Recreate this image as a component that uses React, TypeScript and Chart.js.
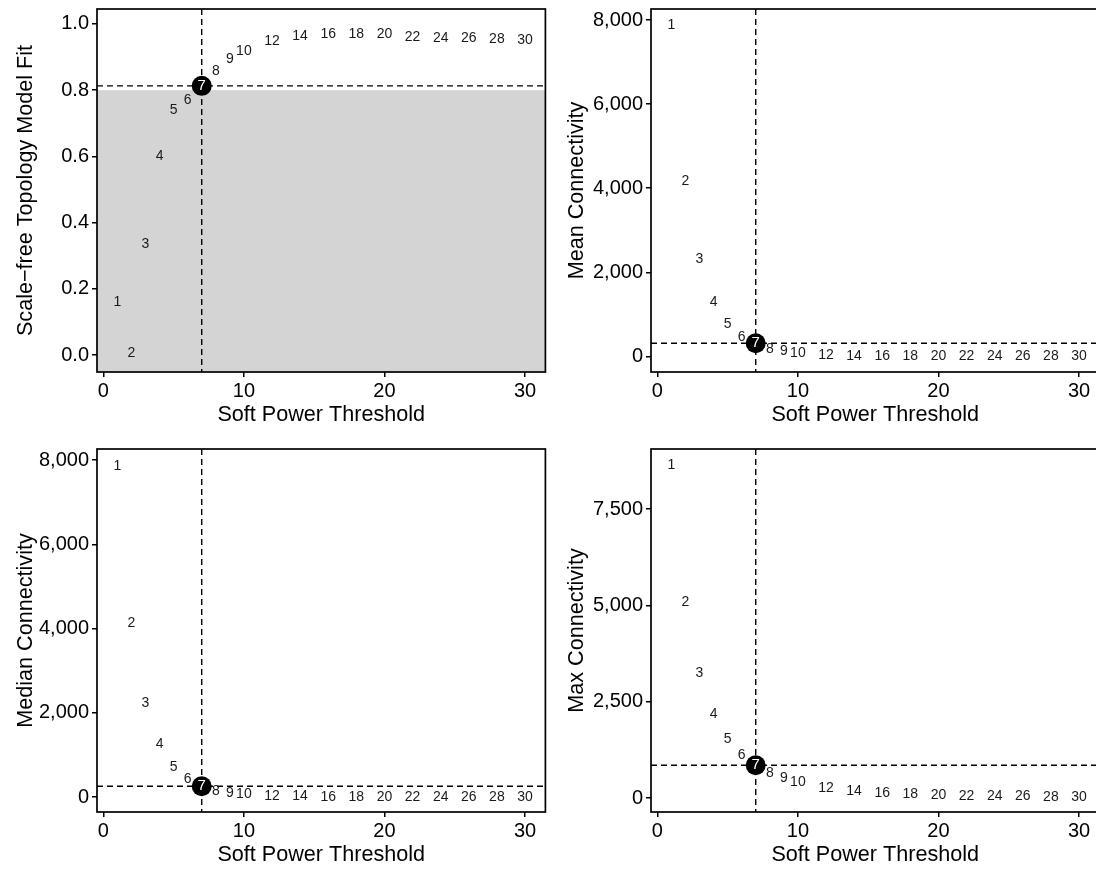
import React, { useEffect, useRef } from "react";
import { Chart, registerables } from "chart.js";

Chart.register(...registerables);

// ---------- data ----------
const powers = [1, 2, 3, 4, 5, 6, 7, 8, 9, 10, 12, 14, 16, 18, 20, 22, 24, 26, 28, 30];
const fitValues = [0.161, 0.005, 0.334, 0.602, 0.74, 0.77, 0.813, 0.858, 0.894, 0.917, 0.948, 0.963, 0.97, 0.969, 0.968, 0.96, 0.958, 0.958, 0.955, 0.952];
const meanConnectivity = [7882, 4173, 2311, 1303, 773, 471, 314, 175, 128, 80, 35, 18, 11, 7, 5, 3, 2, 1.5, 1.2, 1];
const medianConnectivity = [7869, 4126, 2226, 1252, 720, 420, 255, 143, 102, 71, 30, 14, 7, 4, 2.5, 1.5, 1, 0.7, 0.5, 0.3];
const maxConnectivity = [8651, 5095, 3236, 2180, 1531, 1125, 850, 649, 511, 407, 260, 182, 130, 95, 78, 60, 44, 37, 30, 25];
const selectedPower = 7;
const fitCutoff = 0.8;

const xTicks = [0, 10, 20, 30];
const xTickLabels = ["0", "10", "20", "30"];
const xLimits = [-0.45, 31.45];

const fitTicks = [0, 0.2, 0.4, 0.6, 0.8, 1.0];
const fitTickLabels = ["0.0", "0.2", "0.4", "0.6", "0.8", "1.0"];
const fitLimits = [-0.051, 1.045];

const meanTicks = [0, 2000, 4000, 6000, 8000];
const meanTickLabels = ["0", "2,000", "4,000", "6,000", "8,000"];
const meanLimits = [-369, 8262];

const medianTicks = [0, 2000, 4000, 6000, 8000];
const medianTickLabels = ["0", "2,000", "4,000", "6,000", "8,000"];
const medianLimits = [-356, 8266];

const maxTicks = [0, 2500, 5000, 7500];
const maxTickLabels = ["0", "2,500", "5,000", "7,500"];
const maxLimits = [-363, 9058];

const xTitle = "Soft Power Threshold";

const FONT = '"Liberation Sans", Arial, Helvetica, sans-serif';

type PanelProps = {
  values: number[];
  yTicks: number[];
  yTickLabels: string[];
  yLimits: number[];
  yTitle: string;
  shade: boolean;
  left: number;
  top: number;
  width: number;
  yAxisWidth: number;
  padRight: number;
  yTitlePad: number;
};

function Panel(props: PanelProps) {
  const ref = useRef<HTMLCanvasElement | null>(null);
  useEffect(() => {
    const canvas = ref.current;
    if (!canvas) return;
    const { values, yTicks, yTickLabels, yLimits, yTitle, shade } = props;
    const selIdx = powers.indexOf(selectedPower);

    const panelPlugin = {
      id: "panelDecor",
      beforeDatasetsDraw(chart: any) {
        const { ctx, chartArea: a, scales } = chart;
        const x = scales.x;
        const y = scales.y;
        ctx.save();
        if (shade) {
          const yc = y.getPixelForValue(fitCutoff);
          ctx.fillStyle = "#d4d4d4";
          ctx.fillRect(a.left, yc, a.right - a.left, a.bottom - yc);
        }
        const px = x.getPixelForValue(selectedPower);
        const py = y.getPixelForValue(values[selIdx]);
        ctx.strokeStyle = "#000";
        ctx.lineWidth = 1.4;
        ctx.setLineDash([6, 4]);
        ctx.beginPath();
        ctx.moveTo(px, a.top);
        ctx.lineTo(px, a.bottom);
        ctx.moveTo(a.left, py);
        ctx.lineTo(a.right, py);
        ctx.stroke();
        ctx.restore();
      },
      afterDatasetsDraw(chart: any) {
        const { ctx, chartArea: a } = chart;
        const meta = chart.getDatasetMeta(0);
        ctx.save();
        ctx.textAlign = "center";
        ctx.textBaseline = "middle";
        meta.data.forEach((pt: any, i: number) => {
          const p = powers[i];
          if (p === selectedPower) {
            ctx.fillStyle = "#ffffff";
            ctx.font = "15px " + FONT;
          } else {
            ctx.fillStyle = "#1a1a1a";
            ctx.font = "14px " + FONT;
          }
          ctx.fillText(String(p), pt.x, pt.y);
        });
        ctx.setLineDash([]);
        ctx.lineWidth = 1.7;
        ctx.strokeStyle = "#000";
        ctx.strokeRect(a.left, a.top, a.right - a.left, a.bottom - a.top);
        ctx.restore();
      },
    };

    const zeroPad = (s: any) => {
      s.paddingTop = 0;
      s.paddingBottom = 0;
      s.paddingLeft = 0;
      s.paddingRight = 0;
    };

    const chart = new Chart(canvas, {
      type: "scatter",
      data: {
        datasets: [
          {
            data: powers.map((p, i) => ({ x: p, y: values[i] })),
            pointRadius: powers.map((p) => (p === selectedPower ? 10 : 0)),
            pointHoverRadius: powers.map((p) => (p === selectedPower ? 10 : 0)),
            backgroundColor: "#000",
            borderColor: "#000",
            borderWidth: 0,
            showLine: false,
          },
        ],
      },
      options: {
        animation: false,
        responsive: false,
        events: [],
        layout: { autoPadding: false, padding: { top: 9, right: props.padRight, left: 0, bottom: 0 } },
        plugins: { legend: { display: false }, tooltip: { enabled: false } },
        scales: {
          x: {
            type: "linear",
            position: "bottom",
            min: xLimits[0],
            max: xLimits[1],
            afterBuildTicks: (s: any) => {
              s.ticks = xTicks.map((v) => ({ value: v }));
            },
            afterFit: (s: any) => {
              s.height = 68;
              zeroPad(s);
            },
            ticks: {
              autoSkip: false,
              maxRotation: 0,
              padding: 2,
              color: "#000",
              font: { family: FONT, size: 20 },
              callback: (_v: any, i: number) => xTickLabels[i],
            },
            grid: { drawOnChartArea: false, drawTicks: true, tickLength: 5, color: "#000", lineWidth: 1.5 },
            border: { display: false },
            title: {
              display: true,
              text: xTitle,
              color: "#000",
              font: { family: FONT, size: 21.6 },
              padding: { top: 0, bottom: 12 },
            },
          },
          y: {
            type: "linear",
            position: "left",
            min: yLimits[0],
            max: yLimits[1],
            afterBuildTicks: (s: any) => {
              s.ticks = yTicks.map((v) => ({ value: v }));
            },
            afterFit: (s: any) => {
              s.width = props.yAxisWidth;
              zeroPad(s);
            },
            ticks: {
              autoSkip: false,
              padding: 3,
              color: "#000",
              font: { family: FONT, size: 20 },
              callback: (_v: any, i: number) => yTickLabels[i],
            },
            grid: { drawOnChartArea: false, drawTicks: true, tickLength: 5, color: "#000", lineWidth: 1.5 },
            border: { display: false },
            title: {
              display: true,
              text: yTitle,
              color: "#000",
              font: { family: FONT, size: 21.6 },
              padding: { top: props.yTitlePad, bottom: 0 },
            },
          },
        },
      },
      plugins: [panelPlugin],
    } as any);
    return () => chart.destroy();
  }, []);

  return (
    <canvas
      ref={ref}
      width={props.width}
      height={440}
      style={{ position: "absolute", left: props.left, top: props.top, width: props.width, height: 440 }}
    />
  );
}

export default function App() {
  const leftCol = { left: 0, width: 548, yAxisWidth: 97, padRight: 2.6, yTitlePad: 13 };
  const rightCol = { left: 548, width: 556, yAxisWidth: 103, padRight: 4.6, yTitlePad: 16 };
  return (
    <div
      style={{
        position: "absolute",
        left: 0,
        top: 0,
        width: 1096,
        height: 872,
        overflow: "hidden",
        background: "#ffffff",
      }}
    >
      <Panel
        {...leftCol}
        top={0}
        values={fitValues}
        yTicks={fitTicks}
        yTickLabels={fitTickLabels}
        yLimits={fitLimits}
        yTitle="Scale−free Topology Model Fit"
        shade={true}
      />
      <Panel
        {...rightCol}
        top={0}
        values={meanConnectivity}
        yTicks={meanTicks}
        yTickLabels={meanTickLabels}
        yLimits={meanLimits}
        yTitle="Mean Connectivity"
        shade={false}
      />
      <Panel
        {...leftCol}
        top={440}
        values={medianConnectivity}
        yTicks={medianTicks}
        yTickLabels={medianTickLabels}
        yLimits={medianLimits}
        yTitle="Median Connectivity"
        shade={false}
      />
      <Panel
        {...rightCol}
        top={440}
        values={maxConnectivity}
        yTicks={maxTicks}
        yTickLabels={maxTickLabels}
        yLimits={maxLimits}
        yTitle="Max Connectivity"
        shade={false}
      />
    </div>
  );
}
